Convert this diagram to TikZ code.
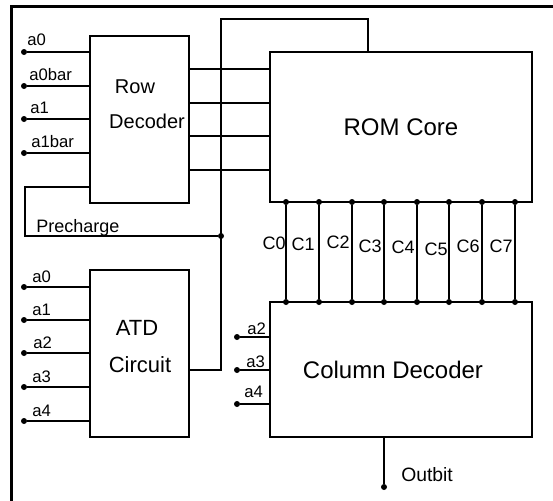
\documentclass[tikz,border=0pt]{standalone}
\usepackage{fontspec}
\setmainfont{Liberation Sans}
\usetikzlibrary{positioning}

\begin{document}
\begin{tikzpicture}[
    x=0.75pt, y=-0.75pt,
    wire/.style={line width=1.5pt},
    blk/.style={draw, line width=1.5pt, inner sep=0pt, outer sep=0pt},
    dot/.style={circle, fill, inner sep=0pt, outer sep=0pt, minimum size=4.5pt},
    pinlbl/.style={anchor=base west, inner sep=0pt, font=\fontsize{12.5}{15}\selectfont},
    clbl/.style={anchor=east, inner sep=0pt, font=\fontsize{13.5}{16}\selectfont}
]
\useasboundingbox (0,0) rectangle (553,500);
% frame
\draw[line width=2.25pt] (11,530) -- (11,6) -- (580,6);

% blocks
\node[blk, minimum width=74.25pt, minimum height=125.25pt] (rowdec) at (139.5,119.5) {};
\node[font=\fontsize{15}{18}\selectfont] (rowtxt) at (135,87) {Row};
\node[font=\fontsize{15}{18}\selectfont] (dectxt) at (147,121) {Decoder};
\node[blk, minimum width=74.25pt, minimum height=125.25pt] (atd) at (139.5,353.5) {};
\node[font=\fontsize{16.5}{19}\selectfont] (atdtxt) at (137,328) {ATD};
\node[font=\fontsize{16.5}{19}\selectfont] (cirtxt) at (140,365) {Circuit};
\node[blk, minimum width=196.5pt, minimum height=112.5pt, font=\fontsize{18}{21}\selectfont] (rom) at (401,127) {ROM Core};
\node[blk, minimum width=196.5pt, minimum height=101.25pt, font=\fontsize{18}{21}\selectfont] (coldec) at (401,369.5) {\hspace{-12pt}Column Decoder};

% row decoder inputs
\node[dot] (ra0) at (24,52) {};
\node[dot] (ra0b) at (24,86) {};
\node[dot] (ra1) at (24,119) {};
\node[dot] (ra1b) at (24,153) {};
\node[pinlbl] (la0) at (27,45) {a0};
\node[pinlbl] (la0b) at (29,80) {a0bar};
\node[pinlbl] (la1) at (30,113) {a1};
\node[pinlbl] (la1b) at (31,147) {a1bar};
\draw[wire] (ra0) -- (ra0 -| rowdec.west);
\draw[wire] (ra0b) -- (ra0b -| rowdec.west);
\draw[wire] (ra1) -- (ra1 -| rowdec.west);
\draw[wire] (ra1b) -- (ra1b -| rowdec.west);

% row decoder outputs
\draw[wire] (rowdec.east |- 0,69) -- (rom.west |- 0,69);
\draw[wire] (rowdec.east |- 0,103) -- (rom.west |- 0,103);
\draw[wire] (rowdec.east |- 0,136) -- (rom.west |- 0,136);
\draw[wire] (rowdec.east |- 0,170) -- (rom.west |- 0,170);

% ATD inputs
\node[dot] (ta0) at (24,287) {};
\node[dot] (ta1) at (24,320) {};
\node[dot] (ta2) at (24,353) {};
\node[dot] (ta3) at (24,387) {};
\node[dot] (ta4) at (24,421) {};
\node[pinlbl] (lt0) at (32,282) {a0};
\node[pinlbl] (lt1) at (32,315) {a1};
\node[pinlbl] (lt2) at (33,348) {a2};
\node[pinlbl] (lt3) at (32,382) {a3};
\node[pinlbl] (lt4) at (32,416) {a4};
\draw[wire] (ta0) -- (ta0 -| atd.west);
\draw[wire] (ta1) -- (ta1 -| atd.west);
\draw[wire] (ta2) -- (ta2 -| atd.west);
\draw[wire] (ta3) -- (ta3 -| atd.west);
\draw[wire] (ta4) -- (ta4 -| atd.west);

% ATD output, precharge
\coordinate (atdout) at (221,370);
\coordinate (romin) at (368,19);
\coordinate (prel) at (25,236);
\node[dot] (jn) at (221,236) {};
\draw[wire] (atd.east |- atdout) -- (atdout) |- (romin) -- (romin |- rom.north);
\draw[wire] (rowdec.west |- 0,187) -| (prel) -- (jn);
\node[anchor=base west, inner sep=0pt, font=\fontsize{13.5}{16}\selectfont] (prelbl) at (36,232) {Precharge};

% column lines
\node[dot] (c0t) at (286,202) {}; \node[dot] (c0b) at (286,302) {};
\node[dot] (c1t) at (319,202) {}; \node[dot] (c1b) at (319,302) {};
\node[dot] (c2t) at (352,202) {}; \node[dot] (c2b) at (352,302) {};
\node[dot] (c3t) at (384,202) {}; \node[dot] (c3b) at (384,302) {};
\node[dot] (c4t) at (417,202) {}; \node[dot] (c4b) at (417,302) {};
\node[dot] (c5t) at (449,202) {}; \node[dot] (c5b) at (449,302) {};
\node[dot] (c6t) at (482,202) {}; \node[dot] (c6b) at (482,302) {};
\node[dot] (c7t) at (515,202) {}; \node[dot] (c7b) at (515,302) {};
\draw[wire] (c0t) -- (c0b);
\draw[wire] (c1t) -- (c1b);
\draw[wire] (c2t) -- (c2b);
\draw[wire] (c3t) -- (c3b);
\draw[wire] (c4t) -- (c4b);
\draw[wire] (c5t) -- (c5b);
\draw[wire] (c6t) -- (c6b);
\draw[wire] (c7t) -- (c7b);
\node[clbl] (lc0) at (286,243) {C0};
\node[clbl] (lc1) at (315,244) {C1};
\node[clbl] (lc2) at (350,242) {C2};
\node[clbl] (lc3) at (382,246) {C3};
\node[clbl] (lc4) at (415,247) {C4};
\node[clbl] (lc5) at (448,249) {C5};
\node[clbl] (lc6) at (480,246) {C6};
\node[clbl] (lc7) at (513,246) {C7};

% column decoder inputs
\node[dot] (ca2) at (237,337) {};
\node[dot] (ca3) at (237,370) {};
\node[dot] (ca4) at (237,404) {};
\node[pinlbl] (lc2in) at (247,334) {a2};
\node[pinlbl] (lc3in) at (246,367) {a3};
\node[pinlbl] (lc4in) at (244,397) {a4};
\draw[wire] (ca2) -- (ca2 -| coldec.west);
\draw[wire] (ca3) -- (ca3 -| coldec.west);
\draw[wire] (ca4) -- (ca4 -| coldec.west);

% output
\node[dot] (out) at (384,487) {};
\draw[wire] (out |- coldec.south) -- (out);
\node[anchor=base west, inner sep=0pt, font=\fontsize{14.5}{17}\selectfont] (outlbl) at (401,481) {Outbit};
\end{tikzpicture}
\end{document}
